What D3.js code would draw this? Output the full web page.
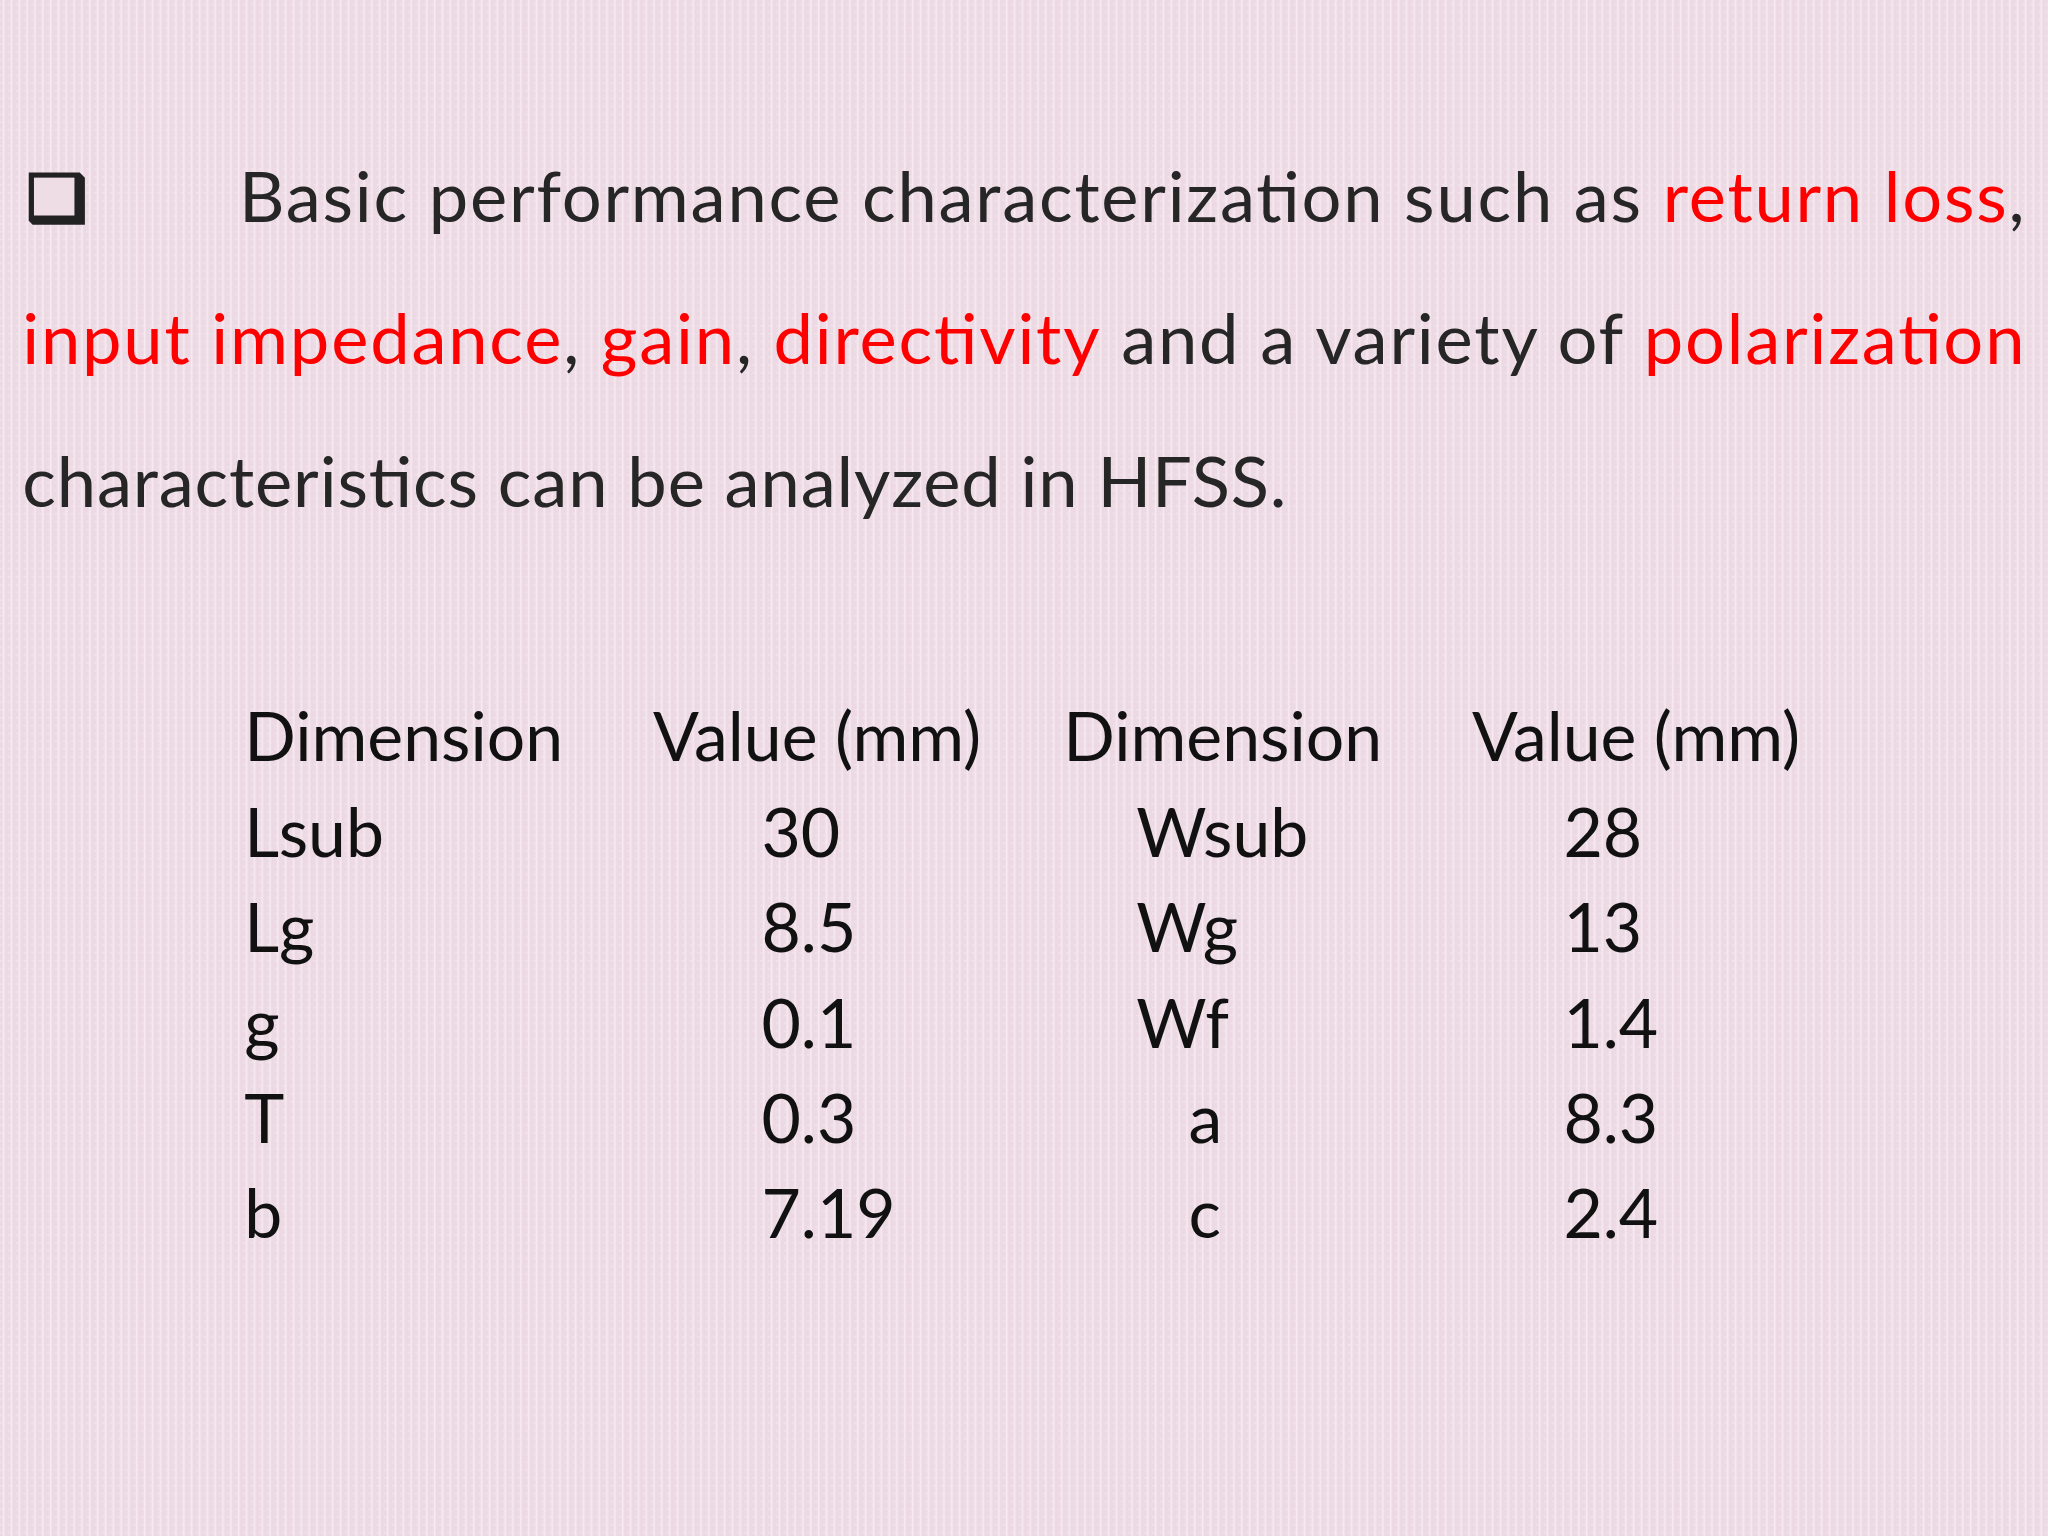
<!DOCTYPE html>
<html><head><meta charset="utf-8">
<script src="https://cdn.jsdelivr.net/npm/d3@7"></script>
<style>body{margin:0;background:#efdde6}svg{display:block}</style>
</head><body>
<svg id="slide"></svg>
<script>
// table contents
const headers = ['Dimension', 'Value (mm)', 'Dimension', 'Value (mm)'];
const leftNames = ['Lsub', 'Lg', 'g', 'T', 'b'];
const leftValues = ['30', '8.5', '0.1', '0.3', '7.19'];
const rightNames = ['Wsub', 'Wg', 'Wf', 'a', 'c'];
const rightValues = ['28', '13', '1.4', '8.3', '2.4'];

// bullet text pieces: [text, red?]
const lines = [
  [['Basic performance characterization such as ', 0], ['return loss', 1], [',', 0]],
  [['input impedance', 1], [', ', 0], ['gain', 1], [', ', 0], ['directivity', 1], [' and a variety of ', 0], ['polarization', 1]],
  [['characteristics can be analyzed in HFSS.', 0]]
];

const W = 1568, H = 1176;
const svg = d3.select('#slide')
  .attr('width', 2048).attr('height', 1536)
  .attr('viewBox', `0 0 ${W} ${H}`);

// background texture
const defs = svg.append('defs');
const pat = defs.append('pattern').attr('id', 'tex')
  .attr('width', 6).attr('height', 6).attr('patternUnits', 'userSpaceOnUse');
pat.append('rect').attr('width', 6).attr('height', 6).attr('fill', '#ecd9e3');
pat.append('rect').attr('x', 2).attr('width', 1.5).attr('height', 6).attr('fill', '#f6e9ef');
pat.append('rect').attr('y', 3).attr('width', 2).attr('height', 1).attr('fill', '#f3e4eb');
svg.append('rect').attr('width', W).attr('height', H).attr('fill', 'url(#tex)');

const font = 'Lato, "Open Sans", sans-serif';

// checkbox bullet
const cb = svg.append('g').attr('fill', '#222');
cb.append('path').attr('d', 'M22,132 h39 l4,4 v36 h-40 l-3,-3 Z');
cb.append('rect').attr('x', 26).attr('y', 136).attr('width', 31).attr('height', 29).attr('fill', '#efdde6');

// paragraph
const lineY = d3.scaleLinear().domain([0, 1]).range([170, 279]);
const lineX = [183, 17, 17];
const lineLen = [1367, 1533, 968];
lines.forEach((parts, i) => {
  const t = svg.append('text').attr('x', lineX[i]).attr('y', lineY(i))
    .attr('font-family', font).attr('font-size', 54)
    .attr('textLength', lineLen[i]).attr('lengthAdjust', 'spacing');
  t.selectAll('tspan').data(parts).join('tspan')
    .attr('fill', d => d[1] ? '#ff0000' : '#262626')
    .style('white-space', 'pre')
    .text(d => d[0]);
});

// table
const rowY = d3.scaleLinear().domain([0, 1]).range([583, 656]);
const colX = [187, 500, 814, 1127];
const body = svg.append('g').attr('font-family', font).attr('font-size', 52).attr('fill', '#111');
body.selectAll('.h').data(headers).join('text')
  .attr('x', (d, i) => colX[i]).attr('y', rowY(0)).text(d => d);

const rows = leftNames.map((n, i) => [n, leftValues[i], rightNames[i], rightValues[i]]);
const cellX = [187, 583, 870, 1197];
const rightNameX = d => (d === 'a' || d === 'c') ? 910 : 870;
rows.forEach((r, i) => {
  const y = rowY(i + 1);
  body.append('text').attr('x', cellX[0]).attr('y', y).text(r[0]);
  body.append('text').attr('x', cellX[1]).attr('y', y).text(r[1]);
  body.append('text').attr('x', rightNameX(r[2])).attr('y', y).text(r[2]);
  body.append('text').attr('x', cellX[3]).attr('y', y).text(r[3]);
});
</script>
</body></html>
